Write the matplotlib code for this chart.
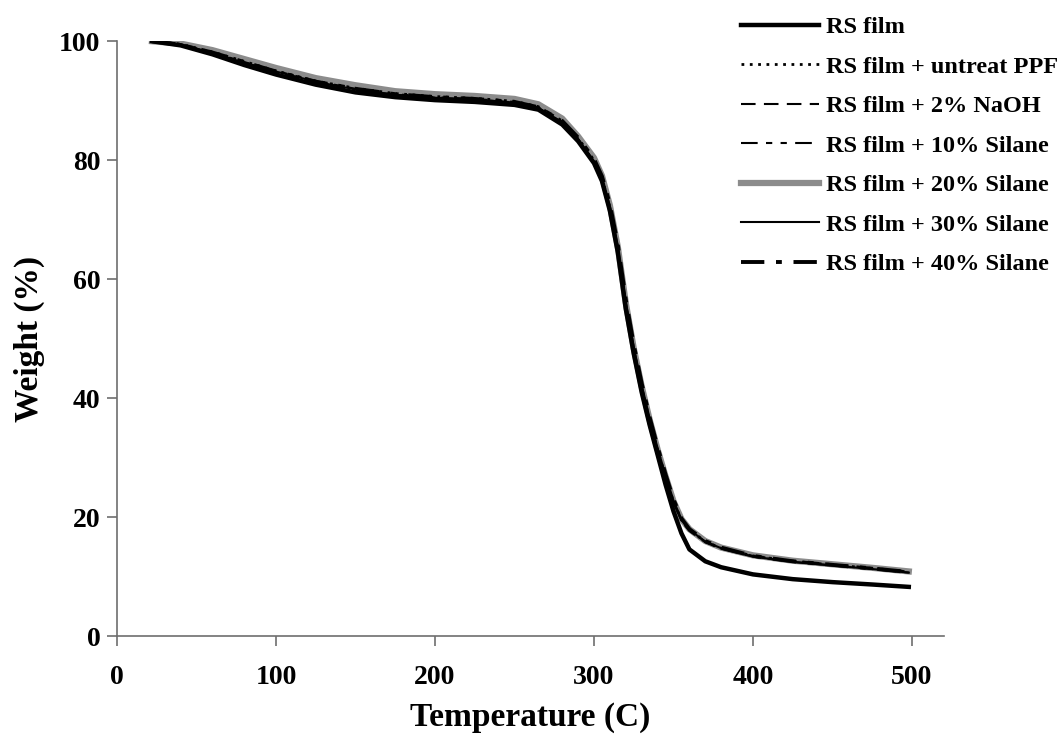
import matplotlib
matplotlib.use("Agg")
import matplotlib.pyplot as plt

plt.rcParams['font.family'] = ['Liberation Serif', 'DejaVu Serif']
plt.rcParams['font.weight'] = 'bold'

# temperature grid (C) shared by all TGA runs
temperature = [22, 40, 60, 80, 100, 125, 150, 175, 200, 225, 250, 265, 280, 290,
               300, 305, 310, 315, 320, 325, 330, 335, 340, 345, 350, 355, 360,
               370, 380, 400, 425, 450, 475, 498]

# weight (%) for each sample
rs_film = [100.0, 99.3, 97.8, 96.0, 94.4, 92.7, 91.4, 90.6, 90.1, 89.8, 89.3, 88.5, 86.0, 83.2,
           79.5, 76.5, 71.5, 64.5, 55.0, 47.5, 41.0, 35.5, 30.5, 25.5, 21.0, 17.3, 14.6,
           12.6, 11.6, 10.4, 9.6, 9.1, 8.7, 8.3]
untreat_ppf = [100.0, 99.5, 98.2, 96.6, 95.0, 93.3, 92.1, 91.2, 90.7, 90.4, 89.9, 89.0, 86.6, 83.7,
               80.0, 77.0, 72.0, 65.0, 55.5, 48.0, 41.8, 36.3, 31.3, 26.8, 22.6, 19.6, 17.9,
               15.9, 14.8, 13.5, 12.6, 12.0, 11.4, 10.8]
naoh_2 = [100.0, 99.4, 98.0, 96.4, 94.8, 93.1, 91.9, 91.0, 90.5, 90.2, 89.7, 88.8, 86.3, 83.3,
          79.6, 76.6, 71.6, 64.6, 55.2, 47.8, 41.6, 36.1, 31.1, 26.6, 22.4, 19.4, 17.7,
          15.8, 14.7, 13.4, 12.5, 11.9, 11.3, 10.7]
silane_10 = [100.0, 99.5, 98.1, 96.5, 95.0, 93.3, 92.0, 91.1, 90.6, 90.3, 89.8, 88.9, 86.5, 83.6,
             79.8, 76.8, 71.8, 64.8, 55.4, 48.0, 41.8, 36.2, 31.2, 26.7, 22.5, 19.5, 17.8,
             15.9, 14.8, 13.5, 12.7, 12.1, 11.5, 10.9]
silane_20 = [100.0, 99.6, 98.5, 97.0, 95.5, 93.8, 92.6, 91.6, 91.1, 90.8, 90.3, 89.4, 87.0, 84.0,
             80.4, 77.4, 72.4, 65.4, 56.0, 48.4, 42.0, 36.4, 31.4, 26.9, 22.7, 19.7, 18.0,
             16.0, 14.9, 13.6, 12.7, 12.1, 11.5, 10.9]
silane_30 = [100.0, 99.4, 98.0, 96.4, 94.9, 93.2, 91.9, 91.0, 90.5, 90.2, 89.7, 88.8, 86.4, 83.5,
             79.8, 76.9, 72.2, 65.4, 56.2, 48.6, 42.2, 36.6, 31.6, 27.0, 22.8, 19.7, 17.9,
             15.9, 14.8, 13.4, 12.5, 11.9, 11.3, 10.7]
silane_40 = [100.0, 99.4, 98.1, 96.5, 94.9, 93.2, 92.0, 91.1, 90.6, 90.3, 89.8, 88.9, 86.6, 83.8,
             80.2, 77.3, 72.6, 65.8, 56.6, 49.0, 42.5, 36.8, 31.8, 27.2, 23.0, 19.8, 18.0,
             16.0, 14.9, 13.5, 12.6, 12.0, 11.4, 10.8]

labels = ['RS film', 'RS film + untreat PPF', 'RS film + 2% NaOH', 'RS film + 10% Silane',
          'RS film + 20% Silane', 'RS film + 30% Silane', 'RS film + 40% Silane']

fig = plt.figure(figsize=(10.64, 7.36), dpi=100)
ax = fig.add_axes([0.110, 0.1355, 0.777, 0.8085])

# draw order: grey wide line underneath, others on top
ax.plot(temperature, silane_20, color='#8c8c8c', lw=4.5, label=labels[4], zorder=2)
ax.plot(temperature, rs_film, color='black', lw=3.2, label=labels[0], zorder=3)
ax.plot(temperature, untreat_ppf, color='black', lw=2, linestyle=(0, (1, 2)), label=labels[1], zorder=3)
ax.plot(temperature, naoh_2, color='black', lw=1.5, linestyle=(0, (7, 4)), label=labels[2], zorder=3)
ax.plot(temperature, silane_10, color='black', lw=1.5, linestyle=(0, (8, 4, 3, 4, 3, 4)), label=labels[3], zorder=3)
ax.plot(temperature, silane_30, color='black', lw=1.5, label=labels[5], zorder=3)
ax.plot(temperature, silane_40, color='black', lw=2.8, linestyle=(0, (6, 3, 1.5, 3)), label=labels[6], zorder=3)

ax.set_xlim(0, 520)
ax.set_ylim(0, 100)
ax.set_xticks([0, 100, 200, 300, 400, 500])
ax.set_yticks([0, 20, 40, 60, 80, 100])

for side in ['top', 'right']:
    ax.spines[side].set_visible(False)
for side in ['left', 'bottom']:
    ax.spines[side].set_color('#6e6e6e')
    ax.spines[side].set_linewidth(1.2)

ax.tick_params(axis='both', direction='out', length=7, width=1.2, color='#6e6e6e', labelsize=20)
ax.tick_params(axis='x', pad=14)
ax.tick_params(axis='y', pad=5)

ax.set_xlabel('Temperature (C)', fontsize=24, fontweight='bold', labelpad=8)
ax.set_ylabel('Weight (%)', fontsize=24, fontweight='bold', labelpad=10)

# legend in the upper right, order as in the reference
handles, labs = ax.get_legend_handles_labels()
order = [labs.index(l) for l in labels]
fig.legend([handles[i] for i in order], [labs[i] for i in order],
           loc='upper left', bbox_to_anchor=(741 / 1064, 1 - 16 / 736),
           frameon=False, fontsize=17.5, handlelength=3.2, handletextpad=0.3,
           labelspacing=0.72, borderaxespad=0, borderpad=0)

fig.savefig('out.png', dpi=100)
